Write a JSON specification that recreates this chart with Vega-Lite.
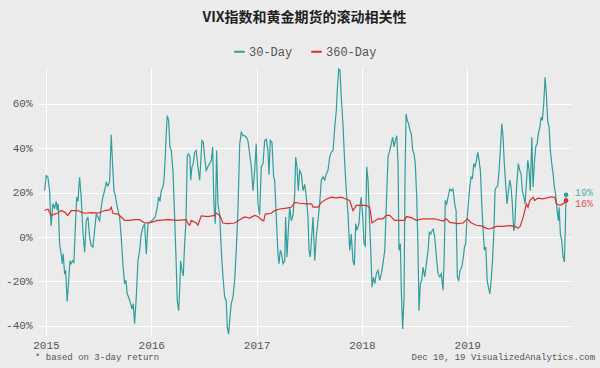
{
  "$schema": "https://vega.github.io/schema/vega-lite/v6.json",
  "width": 533,
  "height": 268,
  "autosize": {"type": "none"},
  "padding": {"left": 38, "top": 67, "right": 29, "bottom": 33},
  "background": "#ececec",
  "config": {
    "view": {"fill": "#ebebeb", "stroke": null},
    "axis": {"gridColor": "#ffffff", "gridWidth": 1, "domain": false, "ticks": false, "labelFont": "Liberation Mono", "labelFontSize": 11, "labelColor": "#555555"}
  },
  "title": {"text": "VIX指数和黄金期货的滚动相关性", "font": "Noto Sans CJK SC", "fontSize": 14, "fontWeight": "bold", "color": "#222222", "anchor": "middle", "offset": 20},
  "data": {"values": [
{"s":"30-Day","t":2014.988,"v":20.8},{"s":"30-Day","t":2015.003,"v":27.6},{"s":"30-Day","t":2015.019,"v":27},{"s":"30-Day","t":2015.035,"v":21},{"s":"30-Day","t":2015.045,"v":9},{"s":"30-Day","t":2015.05,"v":5},{"s":"30-Day","t":2015.066,"v":15},{"s":"30-Day","t":2015.083,"v":13},{"s":"30-Day","t":2015.098,"v":16},{"s":"30-Day","t":2015.107,"v":12},{"s":"30-Day","t":2015.117,"v":15},{"s":"30-Day","t":2015.13,"v":-3},{"s":"30-Day","t":2015.145,"v":-7.6},{"s":"30-Day","t":2015.155,"v":-12},{"s":"30-Day","t":2015.164,"v":-7.6},{"s":"30-Day","t":2015.178,"v":-16.7},{"s":"30-Day","t":2015.187,"v":-15},{"s":"30-Day","t":2015.202,"v":-29},{"s":"30-Day","t":2015.216,"v":-19.7},{"s":"30-Day","t":2015.228,"v":-10.7},{"s":"30-Day","t":2015.24,"v":-12},{"s":"30-Day","t":2015.254,"v":-10.7},{"s":"30-Day","t":2015.266,"v":-11.5},{"s":"30-Day","t":2015.278,"v":2.8},{"s":"30-Day","t":2015.292,"v":17.9},{"s":"30-Day","t":2015.304,"v":16},{"s":"30-Day","t":2015.32,"v":26.9},{"s":"30-Day","t":2015.335,"v":18},{"s":"30-Day","t":2015.351,"v":2.8},{"s":"30-Day","t":2015.368,"v":-6.9},{"s":"30-Day","t":2015.383,"v":7.3},{"s":"30-Day","t":2015.399,"v":9},{"s":"30-Day","t":2015.415,"v":0},{"s":"30-Day","t":2015.43,"v":-3.9},{"s":"30-Day","t":2015.446,"v":-4.5},{"s":"30-Day","t":2015.462,"v":2.8},{"s":"30-Day","t":2015.478,"v":10.3},{"s":"30-Day","t":2015.494,"v":9},{"s":"30-Day","t":2015.51,"v":7.3},{"s":"30-Day","t":2015.525,"v":13.4},{"s":"30-Day","t":2015.541,"v":18},{"s":"30-Day","t":2015.557,"v":20.8},{"s":"30-Day","t":2015.573,"v":24.6},{"s":"30-Day","t":2015.589,"v":23},{"s":"30-Day","t":2015.605,"v":25},{"s":"30-Day","t":2015.62,"v":46},{"s":"30-Day","t":2015.633,"v":32.8},{"s":"30-Day","t":2015.646,"v":20.8},{"s":"30-Day","t":2015.658,"v":19},{"s":"30-Day","t":2015.677,"v":13.4},{"s":"30-Day","t":2015.7,"v":9},{"s":"30-Day","t":2015.715,"v":0},{"s":"30-Day","t":2015.731,"v":-12},{"s":"30-Day","t":2015.747,"v":-21},{"s":"30-Day","t":2015.76,"v":-19.5},{"s":"30-Day","t":2015.772,"v":-25.7},{"s":"30-Day","t":2015.785,"v":-27},{"s":"30-Day","t":2015.804,"v":-30},{"s":"30-Day","t":2015.817,"v":-32.4},{"s":"30-Day","t":2015.829,"v":-30},{"s":"30-Day","t":2015.842,"v":-39},{"s":"30-Day","t":2015.858,"v":-27},{"s":"30-Day","t":2015.874,"v":-10.7},{"s":"30-Day","t":2015.89,"v":-6},{"s":"30-Day","t":2015.905,"v":1.3},{"s":"30-Day","t":2015.921,"v":4.3},{"s":"30-Day","t":2015.937,"v":6},{"s":"30-Day","t":2015.953,"v":-7.6},{"s":"30-Day","t":2015.969,"v":6},{"s":"30-Day","t":2015.994,"v":7},{"s":"30-Day","t":2016.016,"v":7.8},{"s":"30-Day","t":2016.038,"v":9},{"s":"30-Day","t":2016.057,"v":13.4},{"s":"30-Day","t":2016.07,"v":18},{"s":"30-Day","t":2016.083,"v":16},{"s":"30-Day","t":2016.095,"v":20.8},{"s":"30-Day","t":2016.111,"v":22.5},{"s":"30-Day","t":2016.121,"v":25.6},{"s":"30-Day","t":2016.133,"v":35.9},{"s":"30-Day","t":2016.142,"v":46.4},{"s":"30-Day","t":2016.152,"v":54.6},{"s":"30-Day","t":2016.165,"v":52.4},{"s":"30-Day","t":2016.178,"v":40.4},{"s":"30-Day","t":2016.19,"v":38.9},{"s":"30-Day","t":2016.206,"v":29.9},{"s":"30-Day","t":2016.222,"v":9},{"s":"30-Day","t":2016.237,"v":-12},{"s":"30-Day","t":2016.247,"v":-28.7},{"s":"30-Day","t":2016.26,"v":-33.2},{"s":"30-Day","t":2016.27,"v":-24},{"s":"30-Day","t":2016.279,"v":-10.7},{"s":"30-Day","t":2016.292,"v":-15},{"s":"30-Day","t":2016.304,"v":-17.5},{"s":"30-Day","t":2016.317,"v":-3},{"s":"30-Day","t":2016.33,"v":7.3},{"s":"30-Day","t":2016.342,"v":36.6},{"s":"30-Day","t":2016.355,"v":37.4},{"s":"30-Day","t":2016.368,"v":36},{"s":"30-Day","t":2016.374,"v":25.6},{"s":"30-Day","t":2016.387,"v":31.6},{"s":"30-Day","t":2016.399,"v":33},{"s":"30-Day","t":2016.412,"v":38.1},{"s":"30-Day","t":2016.427,"v":38.9},{"s":"30-Day","t":2016.443,"v":31.6},{"s":"30-Day","t":2016.46,"v":25.6},{"s":"30-Day","t":2016.469,"v":33},{"s":"30-Day","t":2016.481,"v":43.4},{"s":"30-Day","t":2016.494,"v":42.6},{"s":"30-Day","t":2016.507,"v":36},{"s":"30-Day","t":2016.522,"v":29.9},{"s":"30-Day","t":2016.538,"v":31.6},{"s":"30-Day","t":2016.555,"v":33},{"s":"30-Day","t":2016.57,"v":34.5},{"s":"30-Day","t":2016.583,"v":40.5},{"s":"30-Day","t":2016.595,"v":14.9},{"s":"30-Day","t":2016.608,"v":6},{"s":"30-Day","t":2016.621,"v":38.9},{"s":"30-Day","t":2016.633,"v":14.9},{"s":"30-Day","t":2016.65,"v":10},{"s":"30-Day","t":2016.665,"v":-6},{"s":"30-Day","t":2016.681,"v":-18},{"s":"30-Day","t":2016.697,"v":-27},{"s":"30-Day","t":2016.712,"v":-28.7},{"s":"30-Day","t":2016.722,"v":-40.6},{"s":"30-Day","t":2016.735,"v":-43.7},{"s":"30-Day","t":2016.747,"v":-36},{"s":"30-Day","t":2016.76,"v":-30},{"s":"30-Day","t":2016.776,"v":-27},{"s":"30-Day","t":2016.792,"v":-19.5},{"s":"30-Day","t":2016.807,"v":-6},{"s":"30-Day","t":2016.823,"v":11.9},{"s":"30-Day","t":2016.84,"v":41.9},{"s":"30-Day","t":2016.855,"v":47.1},{"s":"30-Day","t":2016.871,"v":45.6},{"s":"30-Day","t":2016.887,"v":45.6},{"s":"30-Day","t":2016.902,"v":44.9},{"s":"30-Day","t":2016.918,"v":43.4},{"s":"30-Day","t":2016.934,"v":37.4},{"s":"30-Day","t":2016.95,"v":31.6},{"s":"30-Day","t":2016.966,"v":20.8},{"s":"30-Day","t":2016.982,"v":29.9},{"s":"30-Day","t":2016.997,"v":41.9},{"s":"30-Day","t":2017.013,"v":14.9},{"s":"30-Day","t":2017.029,"v":10},{"s":"30-Day","t":2017.045,"v":31.6},{"s":"30-Day","t":2017.061,"v":33},{"s":"30-Day","t":2017.077,"v":43.4},{"s":"30-Day","t":2017.092,"v":44},{"s":"30-Day","t":2017.108,"v":38.9},{"s":"30-Day","t":2017.118,"v":28},{"s":"30-Day","t":2017.13,"v":43.4},{"s":"30-Day","t":2017.146,"v":42.6},{"s":"30-Day","t":2017.162,"v":27},{"s":"30-Day","t":2017.172,"v":25.6},{"s":"30-Day","t":2017.187,"v":9},{"s":"30-Day","t":2017.203,"v":-7.6},{"s":"30-Day","t":2017.213,"v":-12},{"s":"30-Day","t":2017.225,"v":-6},{"s":"30-Day","t":2017.238,"v":-7.6},{"s":"30-Day","t":2017.251,"v":-12},{"s":"30-Day","t":2017.267,"v":-10.7},{"s":"30-Day","t":2017.276,"v":9},{"s":"30-Day","t":2017.289,"v":-9},{"s":"30-Day","t":2017.301,"v":2.8},{"s":"30-Day","t":2017.314,"v":13.4},{"s":"30-Day","t":2017.33,"v":7.3},{"s":"30-Day","t":2017.346,"v":10},{"s":"30-Day","t":2017.362,"v":19},{"s":"30-Day","t":2017.371,"v":36},{"s":"30-Day","t":2017.384,"v":31.6},{"s":"30-Day","t":2017.396,"v":20.8},{"s":"30-Day","t":2017.409,"v":29.9},{"s":"30-Day","t":2017.425,"v":28.4},{"s":"30-Day","t":2017.441,"v":20.8},{"s":"30-Day","t":2017.457,"v":23.7},{"s":"30-Day","t":2017.472,"v":18},{"s":"30-Day","t":2017.488,"v":9},{"s":"30-Day","t":2017.498,"v":-6},{"s":"30-Day","t":2017.51,"v":-9},{"s":"30-Day","t":2017.523,"v":0},{"s":"30-Day","t":2017.536,"v":9},{"s":"30-Day","t":2017.552,"v":-10.7},{"s":"30-Day","t":2017.567,"v":0},{"s":"30-Day","t":2017.583,"v":7.3},{"s":"30-Day","t":2017.599,"v":14.9},{"s":"30-Day","t":2017.614,"v":25.6},{"s":"30-Day","t":2017.631,"v":27},{"s":"30-Day","t":2017.647,"v":25.6},{"s":"30-Day","t":2017.662,"v":28.4},{"s":"30-Day","t":2017.678,"v":29.9},{"s":"30-Day","t":2017.694,"v":36},{"s":"30-Day","t":2017.709,"v":38.1},{"s":"30-Day","t":2017.726,"v":38.9},{"s":"30-Day","t":2017.742,"v":49.4},{"s":"30-Day","t":2017.757,"v":56.9},{"s":"30-Day","t":2017.766,"v":65.8},{"s":"30-Day","t":2017.78,"v":75.6},{"s":"30-Day","t":2017.792,"v":75},{"s":"30-Day","t":2017.804,"v":62.8},{"s":"30-Day","t":2017.82,"v":50.9},{"s":"30-Day","t":2017.837,"v":33},{"s":"30-Day","t":2017.852,"v":20.8},{"s":"30-Day","t":2017.868,"v":10.3},{"s":"30-Day","t":2017.884,"v":-6},{"s":"30-Day","t":2017.899,"v":1.3},{"s":"30-Day","t":2017.915,"v":-10.7},{"s":"30-Day","t":2017.928,"v":-12.8},{"s":"30-Day","t":2017.941,"v":6},{"s":"30-Day","t":2017.953,"v":3},{"s":"30-Day","t":2017.972,"v":6},{"s":"30-Day","t":2017.985,"v":14.9},{"s":"30-Day","t":2017.994,"v":18},{"s":"30-Day","t":2018.008,"v":9},{"s":"30-Day","t":2018.02,"v":-3},{"s":"30-Day","t":2018.032,"v":-4},{"s":"30-Day","t":2018.046,"v":31.6},{"s":"30-Day","t":2018.058,"v":25.6},{"s":"30-Day","t":2018.07,"v":10.3},{"s":"30-Day","t":2018.084,"v":-6},{"s":"30-Day","t":2018.096,"v":-22.6},{"s":"30-Day","t":2018.109,"v":-18},{"s":"30-Day","t":2018.122,"v":-21},{"s":"30-Day","t":2018.137,"v":-16.5},{"s":"30-Day","t":2018.153,"v":-15},{"s":"30-Day","t":2018.169,"v":-19.5},{"s":"30-Day","t":2018.184,"v":-16.5},{"s":"30-Day","t":2018.2,"v":-12},{"s":"30-Day","t":2018.217,"v":-6},{"s":"30-Day","t":2018.232,"v":14.9},{"s":"30-Day","t":2018.248,"v":36},{"s":"30-Day","t":2018.264,"v":38.9},{"s":"30-Day","t":2018.279,"v":41.9},{"s":"30-Day","t":2018.292,"v":44.9},{"s":"30-Day","t":2018.305,"v":40.5},{"s":"30-Day","t":2018.317,"v":43.4},{"s":"30-Day","t":2018.331,"v":45.6},{"s":"30-Day","t":2018.343,"v":33},{"s":"30-Day","t":2018.352,"v":-6},{"s":"30-Day","t":2018.365,"v":-3},{"s":"30-Day","t":2018.374,"v":-24},{"s":"30-Day","t":2018.387,"v":-41.4},{"s":"30-Day","t":2018.4,"v":-27},{"s":"30-Day","t":2018.409,"v":25.6},{"s":"30-Day","t":2018.419,"v":55.4},{"s":"30-Day","t":2018.431,"v":52.4},{"s":"30-Day","t":2018.444,"v":50.9},{"s":"30-Day","t":2018.457,"v":47.9},{"s":"30-Day","t":2018.469,"v":46.4},{"s":"30-Day","t":2018.482,"v":38.9},{"s":"30-Day","t":2018.495,"v":37.4},{"s":"30-Day","t":2018.507,"v":33},{"s":"30-Day","t":2018.52,"v":18},{"s":"30-Day","t":2018.533,"v":-6},{"s":"30-Day","t":2018.542,"v":-33.2},{"s":"30-Day","t":2018.555,"v":-21},{"s":"30-Day","t":2018.568,"v":-19.5},{"s":"30-Day","t":2018.58,"v":-13.5},{"s":"30-Day","t":2018.596,"v":-18},{"s":"30-Day","t":2018.612,"v":-12},{"s":"30-Day","t":2018.628,"v":-6},{"s":"30-Day","t":2018.64,"v":2.1},{"s":"30-Day","t":2018.653,"v":1.3},{"s":"30-Day","t":2018.666,"v":2.8},{"s":"30-Day","t":2018.678,"v":3.5},{"s":"30-Day","t":2018.691,"v":0},{"s":"30-Day","t":2018.707,"v":-9},{"s":"30-Day","t":2018.723,"v":-16.5},{"s":"30-Day","t":2018.739,"v":-18},{"s":"30-Day","t":2018.754,"v":-16.5},{"s":"30-Day","t":2018.77,"v":-24},{"s":"30-Day","t":2018.78,"v":-10.7},{"s":"30-Day","t":2018.792,"v":16.4},{"s":"30-Day","t":2018.805,"v":14.9},{"s":"30-Day","t":2018.818,"v":18},{"s":"30-Day","t":2018.834,"v":21.6},{"s":"30-Day","t":2018.849,"v":20.8},{"s":"30-Day","t":2018.865,"v":21.6},{"s":"30-Day","t":2018.881,"v":14.9},{"s":"30-Day","t":2018.894,"v":12},{"s":"30-Day","t":2018.906,"v":-18},{"s":"30-Day","t":2018.919,"v":-19.5},{"s":"30-Day","t":2018.932,"v":-15},{"s":"30-Day","t":2018.948,"v":-13.5},{"s":"30-Day","t":2018.963,"v":-9},{"s":"30-Day","t":2018.974,"v":-4.5},{"s":"30-Day","t":2018.985,"v":-3},{"s":"30-Day","t":2018.997,"v":7.3},{"s":"30-Day","t":2019.01,"v":14.9},{"s":"30-Day","t":2019.024,"v":22.5},{"s":"30-Day","t":2019.036,"v":27},{"s":"30-Day","t":2019.049,"v":26.5},{"s":"30-Day","t":2019.062,"v":33},{"s":"30-Day","t":2019.074,"v":31.6},{"s":"30-Day","t":2019.087,"v":34.5},{"s":"30-Day","t":2019.1,"v":38.1},{"s":"30-Day","t":2019.112,"v":34.5},{"s":"30-Day","t":2019.125,"v":29.9},{"s":"30-Day","t":2019.138,"v":14.9},{"s":"30-Day","t":2019.151,"v":2.8},{"s":"30-Day","t":2019.163,"v":-6},{"s":"30-Day","t":2019.176,"v":-4.5},{"s":"30-Day","t":2019.189,"v":-19.5},{"s":"30-Day","t":2019.201,"v":-22.6},{"s":"30-Day","t":2019.215,"v":-25.6},{"s":"30-Day","t":2019.227,"v":-19.5},{"s":"30-Day","t":2019.24,"v":-10.7},{"s":"30-Day","t":2019.253,"v":2.8},{"s":"30-Day","t":2019.264,"v":20.8},{"s":"30-Day","t":2019.276,"v":22.5},{"s":"30-Day","t":2019.29,"v":23},{"s":"30-Day","t":2019.302,"v":29.9},{"s":"30-Day","t":2019.314,"v":38.9},{"s":"30-Day","t":2019.328,"v":50.9},{"s":"30-Day","t":2019.34,"v":44.9},{"s":"30-Day","t":2019.352,"v":33},{"s":"30-Day","t":2019.366,"v":22.5},{"s":"30-Day","t":2019.378,"v":14.9},{"s":"30-Day","t":2019.391,"v":20.8},{"s":"30-Day","t":2019.404,"v":25.6},{"s":"30-Day","t":2019.416,"v":22.5},{"s":"30-Day","t":2019.428,"v":14.9},{"s":"30-Day","t":2019.441,"v":2.8},{"s":"30-Day","t":2019.451,"v":4.3},{"s":"30-Day","t":2019.461,"v":16.4},{"s":"30-Day","t":2019.473,"v":25.6},{"s":"30-Day","t":2019.485,"v":33},{"s":"30-Day","t":2019.499,"v":29.9},{"s":"30-Day","t":2019.511,"v":28.4},{"s":"30-Day","t":2019.523,"v":20.8},{"s":"30-Day","t":2019.537,"v":18},{"s":"30-Day","t":2019.549,"v":15},{"s":"30-Day","t":2019.561,"v":23.7},{"s":"30-Day","t":2019.575,"v":34.5},{"s":"30-Day","t":2019.587,"v":30},{"s":"30-Day","t":2019.599,"v":20.8},{"s":"30-Day","t":2019.613,"v":44.9},{"s":"30-Day","t":2019.625,"v":22.5},{"s":"30-Day","t":2019.637,"v":33},{"s":"30-Day","t":2019.65,"v":40.5},{"s":"30-Day","t":2019.663,"v":41.9},{"s":"30-Day","t":2019.675,"v":46.4},{"s":"30-Day","t":2019.689,"v":49.4},{"s":"30-Day","t":2019.701,"v":53.9},{"s":"30-Day","t":2019.713,"v":52.4},{"s":"30-Day","t":2019.726,"v":59.9},{"s":"30-Day","t":2019.739,"v":71.9},{"s":"30-Day","t":2019.751,"v":64.4},{"s":"30-Day","t":2019.764,"v":52.4},{"s":"30-Day","t":2019.777,"v":49.4},{"s":"30-Day","t":2019.789,"v":38.9},{"s":"30-Day","t":2019.802,"v":33},{"s":"30-Day","t":2019.815,"v":28.4},{"s":"30-Day","t":2019.827,"v":22.5},{"s":"30-Day","t":2019.84,"v":19},{"s":"30-Day","t":2019.853,"v":12},{"s":"30-Day","t":2019.865,"v":7.3},{"s":"30-Day","t":2019.872,"v":13.4},{"s":"30-Day","t":2019.884,"v":1.3},{"s":"30-Day","t":2019.897,"v":-1.6},{"s":"30-Day","t":2019.91,"v":-9},{"s":"30-Day","t":2019.922,"v":-11.2},{"s":"30-Day","t":2019.932,"v":6},{"s":"30-Day","t":2019.938,"v":19},
{"s":"360-Day","t":2014.988,"v":11.9},{"s":"360-Day","t":2015.019,"v":12.6},{"s":"360-Day","t":2015.05,"v":9.7},{"s":"360-Day","t":2015.083,"v":10.3},{"s":"360-Day","t":2015.114,"v":10.8},{"s":"360-Day","t":2015.145,"v":11.9},{"s":"360-Day","t":2015.178,"v":11.2},{"s":"360-Day","t":2015.209,"v":9.7},{"s":"360-Day","t":2015.24,"v":11.9},{"s":"360-Day","t":2015.304,"v":11.9},{"s":"360-Day","t":2015.335,"v":11.2},{"s":"360-Day","t":2015.368,"v":10.7},{"s":"360-Day","t":2015.43,"v":11},{"s":"360-Day","t":2015.494,"v":10.7},{"s":"360-Day","t":2015.557,"v":11.9},{"s":"360-Day","t":2015.605,"v":12.2},{"s":"360-Day","t":2015.62,"v":13.4},{"s":"360-Day","t":2015.636,"v":10.7},{"s":"360-Day","t":2015.684,"v":10.3},{"s":"360-Day","t":2015.715,"v":9},{"s":"360-Day","t":2015.747,"v":7.5},{"s":"360-Day","t":2015.795,"v":7.5},{"s":"360-Day","t":2015.842,"v":7.8},{"s":"360-Day","t":2015.89,"v":7.8},{"s":"360-Day","t":2015.937,"v":6.3},{"s":"360-Day","t":2015.985,"v":6.5},{"s":"360-Day","t":2016.064,"v":7.5},{"s":"360-Day","t":2016.159,"v":7.8},{"s":"360-Day","t":2016.254,"v":7.5},{"s":"360-Day","t":2016.332,"v":7.8},{"s":"360-Day","t":2016.349,"v":6},{"s":"360-Day","t":2016.365,"v":5.3},{"s":"360-Day","t":2016.38,"v":7.5},{"s":"360-Day","t":2016.427,"v":6.3},{"s":"360-Day","t":2016.443,"v":5.3},{"s":"360-Day","t":2016.475,"v":9.5},{"s":"360-Day","t":2016.538,"v":9.2},{"s":"360-Day","t":2016.602,"v":9.7},{"s":"360-Day","t":2016.617,"v":10.8},{"s":"360-Day","t":2016.65,"v":9.7},{"s":"360-Day","t":2016.681,"v":6.3},{"s":"360-Day","t":2016.728,"v":6},{"s":"360-Day","t":2016.792,"v":6.3},{"s":"360-Day","t":2016.84,"v":7.8},{"s":"360-Day","t":2016.887,"v":9},{"s":"360-Day","t":2016.934,"v":8.5},{"s":"360-Day","t":2016.982,"v":9.7},{"s":"360-Day","t":2017.013,"v":9.2},{"s":"360-Day","t":2017.045,"v":7.8},{"s":"360-Day","t":2017.068,"v":7.3},{"s":"360-Day","t":2017.082,"v":10.3},{"s":"360-Day","t":2017.14,"v":10.7},{"s":"360-Day","t":2017.172,"v":11.9},{"s":"360-Day","t":2017.219,"v":12.6},{"s":"360-Day","t":2017.282,"v":13},{"s":"360-Day","t":2017.33,"v":13.4},{"s":"360-Day","t":2017.362,"v":15.6},{"s":"360-Day","t":2017.409,"v":15.2},{"s":"360-Day","t":2017.472,"v":14.9},{"s":"360-Day","t":2017.523,"v":14.9},{"s":"360-Day","t":2017.536,"v":13.4},{"s":"360-Day","t":2017.583,"v":13.4},{"s":"360-Day","t":2017.614,"v":15.6},{"s":"360-Day","t":2017.662,"v":17},{"s":"360-Day","t":2017.709,"v":17.9},{"s":"360-Day","t":2017.757,"v":17.6},{"s":"360-Day","t":2017.804,"v":17.9},{"s":"360-Day","t":2017.852,"v":17},{"s":"360-Day","t":2017.884,"v":16.4},{"s":"360-Day","t":2017.915,"v":11.9},{"s":"360-Day","t":2017.947,"v":14.2},{"s":"360-Day","t":2017.994,"v":14.2},{"s":"360-Day","t":2018.042,"v":14.2},{"s":"360-Day","t":2018.074,"v":13.4},{"s":"360-Day","t":2018.096,"v":6.3},{"s":"360-Day","t":2018.153,"v":8.2},{"s":"360-Day","t":2018.2,"v":8.2},{"s":"360-Day","t":2018.232,"v":9.7},{"s":"360-Day","t":2018.264,"v":9.7},{"s":"360-Day","t":2018.311,"v":7.5},{"s":"360-Day","t":2018.407,"v":7.5},{"s":"360-Day","t":2018.422,"v":9.2},{"s":"360-Day","t":2018.469,"v":8.7},{"s":"360-Day","t":2018.517,"v":7.5},{"s":"360-Day","t":2018.58,"v":8.2},{"s":"360-Day","t":2018.691,"v":8.2},{"s":"360-Day","t":2018.77,"v":7.2},{"s":"360-Day","t":2018.801,"v":8.2},{"s":"360-Day","t":2018.834,"v":6.6},{"s":"360-Day","t":2018.913,"v":6},{"s":"360-Day","t":2018.961,"v":6.3},{"s":"360-Day","t":2019.001,"v":8.2},{"s":"360-Day","t":2019.04,"v":6.3},{"s":"360-Day","t":2019.087,"v":5.3},{"s":"360-Day","t":2019.135,"v":5},{"s":"360-Day","t":2019.182,"v":3.9},{"s":"360-Day","t":2019.215,"v":3.6},{"s":"360-Day","t":2019.246,"v":4.2},{"s":"360-Day","t":2019.276,"v":4.8},{"s":"360-Day","t":2019.34,"v":4.8},{"s":"360-Day","t":2019.404,"v":5.1},{"s":"360-Day","t":2019.451,"v":4.8},{"s":"360-Day","t":2019.482,"v":3.9},{"s":"360-Day","t":2019.504,"v":5},{"s":"360-Day","t":2019.53,"v":8.8},{"s":"360-Day","t":2019.546,"v":11.9},{"s":"360-Day","t":2019.561,"v":14.9},{"s":"360-Day","t":2019.577,"v":13.4},{"s":"360-Day","t":2019.594,"v":16.4},{"s":"360-Day","t":2019.625,"v":17.9},{"s":"360-Day","t":2019.641,"v":16.4},{"s":"360-Day","t":2019.672,"v":17.5},{"s":"360-Day","t":2019.719,"v":17.2},{"s":"360-Day","t":2019.783,"v":17.9},{"s":"360-Day","t":2019.831,"v":18},{"s":"360-Day","t":2019.846,"v":14.9},{"s":"360-Day","t":2019.878,"v":14.2},{"s":"360-Day","t":2019.91,"v":14.9},{"s":"360-Day","t":2019.938,"v":16.4}
  ]},
  "encoding": {
    "x": {"field": "t", "type": "quantitative", "scale": {"domain": [2014.925, 2019.985], "nice": false, "zero": false},
      "axis": {"values": [2015, 2016, 2017, 2018, 2019], "format": "d", "title": null, "labelPadding": 4}},
    "y": {"field": "v", "type": "quantitative", "scale": {"domain": [-44.1, 76.5], "nice": false, "zero": false},
      "axis": {"values": [-40, -20, 0, 20, 40, 60], "labelExpr": "datum.value + '%'", "title": null, "labelPadding": 6}},
    "color": {"field": "s", "type": "nominal", "scale": {"domain": ["30-Day", "360-Day"], "range": ["#2f9e9c", "#dd2c2c"]},
      "legend": {"orient": "none", "legendX": 195, "legendY": -22, "direction": "horizontal", "title": null, "symbolType": "stroke", "symbolStrokeWidth": 2, "symbolSize": 110, "labelFont": "Liberation Mono", "labelFontSize": 12, "labelColor": "#555555", "columnPadding": 14, "labelOffset": 3}}
  },
  "layer": [
    {"mark": {"type": "line", "strokeWidth": 1.2, "clip": true}},
    {
      "transform": [
        {"joinaggregate": [{"op": "max", "field": "t", "as": "tmax"}], "groupby": ["s"]},
        {"filter": "datum.t === datum.tmax"},
        {"calculate": "format(datum.v, '.0f') + '%'", "as": "lbl"}
      ],
      "layer": [
        {"mark": {"type": "point", "filled": true, "size": 22, "opacity": 1}},
        {"transform": [{"filter": "datum.s === '30-Day'"}],
          "mark": {"type": "text", "align": "left", "dx": 9, "dy": -2, "font": "Liberation Mono", "fontSize": 10, "opacity": 0.8}, "encoding": {"text": {"field": "lbl"}}},
        {"transform": [{"filter": "datum.s === '360-Day'"}],
          "mark": {"type": "text", "align": "left", "dx": 9, "dy": 3, "font": "Liberation Mono", "fontSize": 10, "opacity": 0.8}, "encoding": {"text": {"field": "lbl"}}},
        {"transform": [{"filter": "datum.s === '30-Day'"}],
          "mark": {"type": "text", "align": "left", "baseline": "middle", "font": "Liberation Mono", "fontSize": 9, "text": "* based on 3-day return"},
          "encoding": {"x": {"datum": 2014.896}, "y": {"datum": -54}, "color": {"value": "#555555"}}},
        {"transform": [{"filter": "datum.s === '30-Day'"}],
          "mark": {"type": "text", "align": "right", "baseline": "middle", "font": "Liberation Mono", "fontSize": 9, "text": "Dec 10, 19  VisualizedAnalytics.com"},
          "encoding": {"x": {"datum": 2020.214}, "y": {"datum": -54}, "color": {"value": "#555555"}}}
      ]
    }
  ]
}
